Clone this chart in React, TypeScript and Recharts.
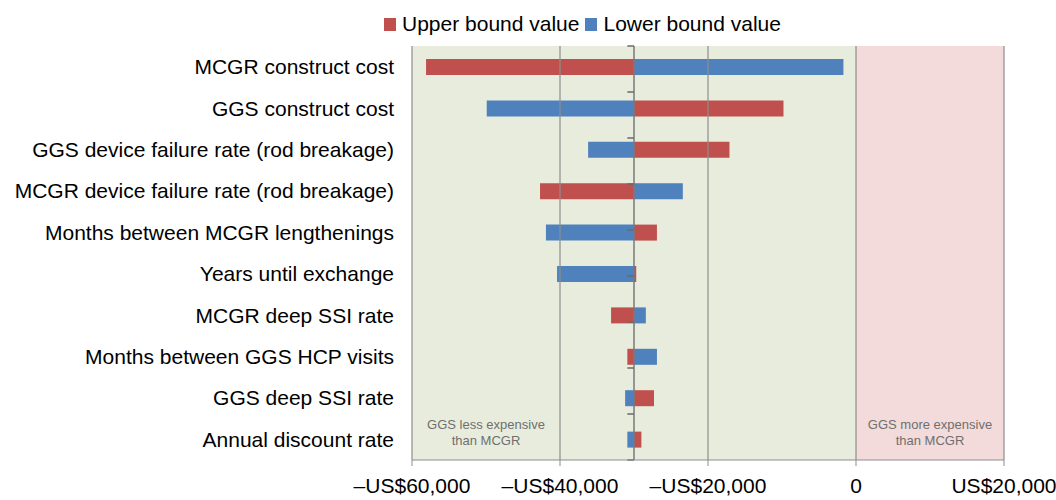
import {
  BarChart,
  Bar,
  XAxis,
  YAxis,
  ReferenceArea,
  ReferenceLine,
} from "recharts";

const FONT = '"Liberation Sans", Arial, Helvetica, sans-serif';

const categories = [
  "MCGR construct cost",
  "GGS construct cost",
  "GGS device failure rate (rod breakage)",
  "MCGR device failure rate (rod breakage)",
  "Months between MCGR lengthenings",
  "Years until exchange",
  "MCGR deep SSI rate",
  "Months between GGS HCP visits",
  "GGS deep SSI rate",
  "Annual discount rate",
];

// incremental cost (US$) at the upper / lower bound of each parameter
const upperBound = [
  -58100, -9800, -17100, -42700, -26900, -29700, -33100, -30900, -27300, -29000,
];
const lowerBound = [
  -1700, -49900, -36200, -23400, -41900, -40400, -28400, -26900, -31200, -30900,
];

const BASE = -30000;
const xTicks = [-60000, -40000, -20000, 0, 20000];

const RED = "#c0504d";
const BLUE = "#4f81bd";
const GRID = "#8e8e8e";

// range from the base case to the bound value
const span = (v: number) => [Math.min(BASE, v), Math.max(BASE, v)];

const data = categories.map((name, i) => ({
  name,
  upper: span(upperBound[i]),
  lower: span(lowerBound[i]),
}));

const fmtMoney = (v: number) => {
  if (v === 0) return "0";
  const s = "US$" + Math.abs(v).toLocaleString("en-US");
  return v < 0 ? "\u2013" + s : s;
};

// boundaries between categories, for the small ticks on the base line
const boundaries = categories.map((_, i) => i).concat(categories.length);

const noteLabel = (line1: string, line2: string) => (props: any) => {
  const { x, y, width, height } = props.viewBox;
  const cx = x + width / 2;
  const by = y + height;
  return (
    <text
      x={cx}
      y={by - 31}
      textAnchor="middle"
      fill="#6f6f6f"
      fontSize={13}
      fontFamily={FONT}
    >
      <tspan x={cx} dy="0">
        {line1}
      </tspan>
      <tspan x={cx} dy="16">
        {line2}
      </tspan>
    </text>
  );
};

const LegendItem = ({ color, label }: { color: string; label: string }) => (
  <div style={{ display: "flex", alignItems: "center", marginRight: 6 }}>
    <span
      style={{
        width: 12,
        height: 13,
        background: color,
        display: "inline-block",
        marginRight: 6,
      }}
    />
    <span>{label}</span>
  </div>
);

export default function App() {
  return (
    <div
      style={{
        position: "absolute",
        left: 0,
        top: 0,
        width: 1056,
        height: 500,
        background: "#fff",
        fontFamily: FONT,
      }}
    >
      <div
        style={{
          position: "absolute",
          left: 384,
          top: 12,
          display: "flex",
          fontSize: 21,
          lineHeight: "24px",
          color: "#000",
          zIndex: 2,
        }}
      >
        <LegendItem color={RED} label="Upper bound value" />
        <LegendItem color={BLUE} label="Lower bound value" />
      </div>

      <BarChart
        width={1056}
        height={500}
        data={data}
        layout="vertical"
        margin={{ top: 46, right: 52, bottom: 0, left: 0 }}
        barSize={16}
        barGap={-16}
      >
        <XAxis
          type="number"
          domain={[-60000, 20000]}
          ticks={xTicks}
          allowDataOverflow
          tickFormatter={fmtMoney}
          axisLine={{ stroke: GRID }}
          tickLine={{ stroke: GRID }}
          tickSize={6}
          tickMargin={12}
          height={40}
          tick={{ fontSize: 21, fill: "#000", fontFamily: FONT }}
        />
        <YAxis
          type="category"
          dataKey="name"
          width={412}
          axisLine={false}
          tickLine={false}
          tickMargin={12}
          interval={0}
          tick={{ fontSize: 21, fill: "#000", fontFamily: FONT }}
        />
        <YAxis
          yAxisId="pos"
          type="number"
          domain={[0, categories.length]}
          allowDataOverflow
          hide
        />

        <ReferenceArea
          x1={-60000}
          x2={0}
          fill="#e8ecdc"
          fillOpacity={1}
          stroke="none"
        />
        <ReferenceArea
          x1={0}
          x2={20000}
          fill="#f2dbda"
          fillOpacity={1}
          stroke="none"
          label={noteLabel("GGS more expensive", "than MCGR")}
        />
        <ReferenceArea
          x1={-60000}
          x2={-40000}
          fill="none"
          stroke="none"
          label={noteLabel("GGS less expensive", "than MCGR")}
        />

        {xTicks.map((t) => (
          <ReferenceLine key={t} x={t} stroke={GRID} strokeWidth={1.2} />
        ))}
        <ReferenceLine x={BASE} stroke="#7a7a7a" strokeWidth={1.5} />
        {boundaries.map((b) => (
          <ReferenceLine
            key={"b" + b}
            yAxisId="pos"
            ifOverflow="visible"
            segment={[
              { x: BASE - 900, y: b },
              { x: BASE, y: b },
            ]}
            stroke="#6a6a6a"
            strokeWidth={1.5}
          />
        ))}

        <Bar dataKey="upper" fill={RED} isAnimationActive={false} />
        <Bar dataKey="lower" fill={BLUE} isAnimationActive={false} />
      </BarChart>
    </div>
  );
}
